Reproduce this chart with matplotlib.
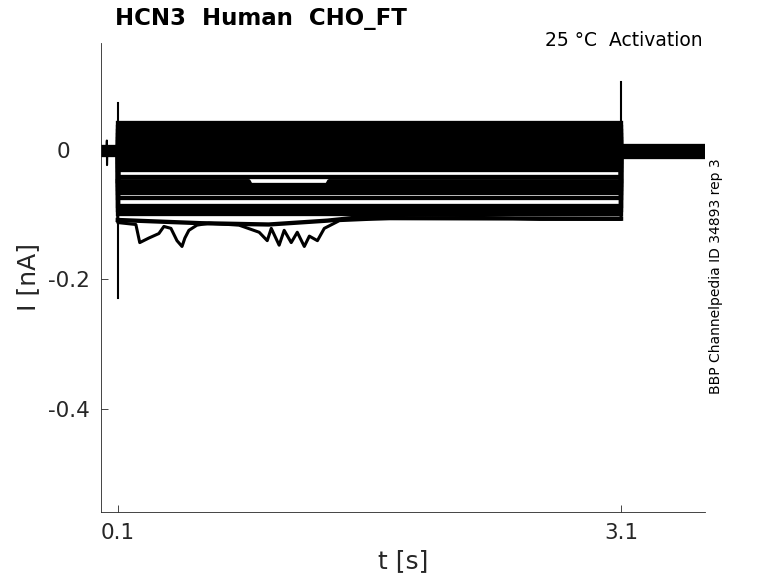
"""
Current traces of HCN3 (human, CHO_FT) activation protocol, 25 C.
"""
import matplotlib
matplotlib.use("Agg")
import matplotlib.pyplot as plt
import matplotlib.transforms as mtransforms

# protocol timing [s]
t_start = 0.0
t_on = 0.1
t_off = 3.1
t_end = 3.6

# current level of each trace during the step [nA]
step_levels = [0.042, 0.036, 0.030, 0.024, 0.018, 0.012, 0.006, 0.000,
               -0.006, -0.012, -0.018, -0.024, -0.030, -0.042, -0.054,
               -0.060, -0.067, -0.074, -0.086, -0.092, -0.098]

# holding level before and after the step [nA]
pre_levels = [0.005, -0.004, 0.002, -0.007, 0.004, -0.002, 0.000, -0.005,
              0.003, -0.003, 0.001, -0.006, 0.004, -0.001, 0.002, -0.004,
              0.000, -0.002, 0.003, -0.001, 0.001]
post_levels = [0.006, -0.008, 0.003, -0.010, 0.004, -0.003, 0.001, -0.006,
               0.002, -0.004, 0.000, -0.009, 0.005, -0.002, 0.003, -0.005,
               -0.001, -0.007, 0.002, -0.003, -0.004]

# trace that leaves its level for a while
mid_t = [0.1, 0.88, 0.90, 1.34, 1.36, 3.1]
mid_i = [-0.048, -0.048, -0.058, -0.058, -0.048, -0.048]

# lower edge of the dense band
edge_t = [0.1, 0.6, 1.0, 1.35, 1.5, 3.1]
edge_i = [-0.108, -0.113, -0.115, -0.109, -0.105, -0.106]

# slowest (most negative) trace, read point by point
low_t = [0.100, 0.208, 0.231, 0.285, 0.345, 0.375, 0.417, 0.453, 0.483,
         0.500, 0.524, 0.572, 0.644, 0.823, 0.943, 0.991, 1.015, 1.062,
         1.092, 1.134, 1.170, 1.212, 1.242, 1.290, 1.331, 1.421, 1.780,
         2.258, 2.616, 3.100]
low_i = [-0.112, -0.115, -0.143, -0.136, -0.129, -0.118, -0.121, -0.140,
         -0.149, -0.136, -0.124, -0.116, -0.113, -0.116, -0.127, -0.140,
         -0.121, -0.147, -0.124, -0.143, -0.127, -0.149, -0.133, -0.140,
         -0.121, -0.109, -0.105, -0.104, -0.107, -0.107]

# capacitive spikes [nA]
onset_peak = 0.073
onset_dip = -0.228
offset_peak = 0.105
blip_t = [0.0, 0.033, 0.035, 0.036, 0.038, t_on]
blip_i = [0.0, 0.0, 0.015, -0.023, 0.0, 0.0]

fig = plt.figure(figsize=(7.78, 5.83), dpi=100)
ax = fig.add_axes([0.1298, 0.1218, 0.7763, 0.8045])

lw = 3.1

# regular traces
for k, level in enumerate(step_levels):
    pre = pre_levels[k]
    post = post_levels[k]
    t = [t_start, t_on, t_on, t_off, t_off, t_end]
    i = [pre, pre, level, level, post, post]
    ax.plot(t, i, color="k", lw=lw, solid_joinstyle="miter")

# special traces
ax.plot(mid_t, mid_i, color="k", lw=lw)
ax.plot(edge_t, edge_i, color="k", lw=lw)
ax.plot([t_start, t_on] + low_t + [t_off, t_end],
        [0.0, 0.0] + low_i + [-0.004, -0.004], color="k", lw=2.2)
ax.plot(blip_t, blip_i, color="k", lw=1.5)

# capacitive transients
ax.plot([t_on, t_on], [onset_dip, onset_peak], color="k", lw=1.5)
ax.plot([t_off, t_off], [step_levels[-1], offset_peak], color="k", lw=1.5)

ax.set_xlim(0.0, 3.6)
ax.set_ylim(-0.56, 0.166)
ax.set_xticks([0.1, 3.1])
ax.set_xticklabels(["0.1", "3.1"])
ax.set_yticks([-0.4, -0.2, 0])
ax.set_yticklabels(["-0.4", "-0.2", ""])
ax.tick_params(direction="in", length=5, width=0.6, labelsize=15.5,
               colors="#262626", pad=8)
for side in ["top", "right"]:
    ax.spines[side].set_visible(False)
for side in ["left", "bottom"]:
    ax.spines[side].set_color("#262626")
    ax.spines[side].set_linewidth(0.6)

# the zero label sits further left in the original
shift = mtransforms.ScaledTranslation(-0.31, 0, fig.dpi_scale_trans)
ax.text(0, 0, "0", transform=ax.get_yaxis_transform() + shift,
        ha="right", va="center_baseline", fontsize=15.5, color="#262626")

ax.set_xlabel("t [s]", fontsize=18, color="#262626", labelpad=4)
ax.set_ylabel("I [nA]", fontsize=18, color="#262626", labelpad=6)

fig.text(115 / 778, 1 - 19 / 583, "HCN3  Human  CHO_FT", fontsize=16.5,
         fontweight="bold", ha="left", va="center")
fig.text(703 / 778, 1 - 40 / 583, "25 \u00b0C  Activation", fontsize=13.5,
         ha="right", va="center")
fig.text(716 / 778, 1 - 276 / 583, "BBP Channelpedia ID 34893 rep 3",
         fontsize=10, rotation=90, ha="center", va="center")

plt.savefig("out.png", dpi=100)
